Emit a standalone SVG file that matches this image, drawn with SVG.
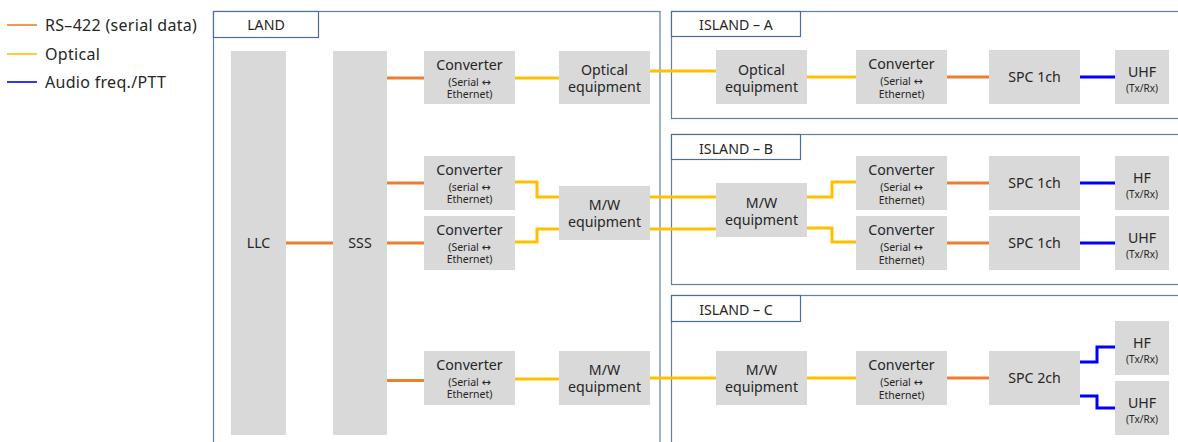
<svg xmlns="http://www.w3.org/2000/svg" width="1178" height="442" viewBox="0 0 1178 442">
<style>
text{font-family:"Noto Sans","Liberation Sans",sans-serif;fill:#262626;text-anchor:middle}
.m{font-size:14.2px}
.s{font-size:10.5px}
.t{font-size:10px}
.ar{font-family:"DejaVu Sans",sans-serif;font-size:11px}
.lg{font-size:16px;text-anchor:start;letter-spacing:0.3px}
.box{fill:#d9d9d9}
.frame{fill:none;stroke:#5f7ea8;stroke-width:1.2}
.lab{fill:#fff;stroke:#4a6d9a;stroke-width:1.2}
.o{fill:none;stroke:#ed7d31;stroke-width:3}
.y{fill:none;stroke:#ffc000;stroke-width:3}
.b{fill:none;stroke:#0000ff;stroke-width:3}
</style>
<g id="legend">
<line x1="7" y1="25" x2="37" y2="25" stroke="#ed7d31" stroke-width="1.6"/>
<text class="lg" x="45" y="30.5">RS–422 (serial data)</text>
<line x1="7" y1="54" x2="37" y2="54" stroke="#ffc000" stroke-width="1.6"/>
<text class="lg" x="45" y="59.5">Optical</text>
<line x1="7" y1="82" x2="37" y2="82" stroke="#0000ff" stroke-width="1.6"/>
<text class="lg" x="45" y="87.5">Audio freq./PTT</text>
</g>
<g id="frames">
<rect class="frame" x="213.5" y="11.5" width="446.5" height="460"/>
<rect class="lab" x="213.5" y="11.5" width="105" height="26"/>
<text class="m" x="266" y="30">LAND</text>
<rect class="frame" x="671.5" y="11.5" width="540" height="107"/>
<rect class="lab" x="671.5" y="11.5" width="129" height="25"/>
<text class="m" x="736" y="29.5">ISLAND – A</text>
<rect class="frame" x="671.5" y="134.5" width="540" height="150"/>
<rect class="lab" x="671.5" y="134.5" width="129" height="25"/>
<text class="m" x="736" y="153.5">ISLAND – B</text>
<rect class="frame" x="671.5" y="295.5" width="540" height="200"/>
<rect class="lab" x="671.5" y="295.5" width="129" height="26"/>
<text class="m" x="736" y="315">ISLAND – C</text>
</g>
<g id="connectors">
<path class="o" d="M286 243H333"/>
<path class="o" d="M387 78H424"/>
<path class="o" d="M387 183H424"/>
<path class="o" d="M387 243H424"/>
<path class="o" d="M387 380.5H424"/>
<path class="y" d="M515 78H559"/>
<path class="y" d="M650 71H716"/>
<path class="y" d="M515 182H537V197H559"/>
<path class="y" d="M515 242H537V229H559"/>
<path class="y" d="M650 197H716"/>
<path class="y" d="M650 229H716"/>
<path class="y" d="M515 379H559"/>
<path class="y" d="M650 378H716"/>
<path class="y" d="M807 77H856"/>
<path class="o" d="M947 77H989"/>
<path class="b" d="M1080 77H1115"/>
<path class="y" d="M807 197H832V182H856"/>
<path class="y" d="M807 228H832V242H856"/>
<path class="o" d="M947 183H989"/>
<path class="b" d="M1080 183H1115"/>
<path class="o" d="M947 243H989"/>
<path class="b" d="M1080 243H1115"/>
<path class="y" d="M807 378H856"/>
<path class="o" d="M947 378H989"/>
<path class="b" d="M1080 362H1097V347H1115"/>
<path class="b" d="M1080 396H1097V408H1115"/>
</g>
<g id="llc"><rect class="box" x="231" y="51" width="55" height="384"/><text class="m" x="258.5" y="248">LLC</text></g>
<g id="sss"><rect class="box" x="333" y="51" width="54" height="384"/><text class="m" x="360" y="248">SSS</text></g>
<g id="convL1"><rect class="box" x="424" y="51" width="91" height="53"/><text class="m" x="469.5" y="70">Converter</text><text class="s" x="469.5" y="85.5">(Serial <tspan class="ar">↔</tspan></text><text class="s" x="469.5" y="98">Ethernet)</text></g>
<g id="optL"><rect class="box" x="559" y="51" width="91" height="53"/><text class="m" x="604.5" y="75">Optical</text><text class="m" x="604.5" y="92">equipment</text></g>
<g id="convL2"><rect class="box" x="424" y="156" width="91" height="54"/><text class="m" x="469.5" y="175">Converter</text><text class="s" x="469.5" y="190.5">(serial <tspan class="ar">↔</tspan></text><text class="s" x="469.5" y="203">Ethernet)</text></g>
<g id="convL3"><rect class="box" x="424" y="216" width="91" height="54"/><text class="m" x="469.5" y="235">Converter</text><text class="s" x="469.5" y="250.5">(Serial <tspan class="ar">↔</tspan></text><text class="s" x="469.5" y="263">Ethernet)</text></g>
<g id="mwL1"><rect class="box" x="559" y="186" width="91" height="54"/><text class="m" x="604.5" y="210">M/W</text><text class="m" x="604.5" y="227">equipment</text></g>
<g id="convL4"><rect class="box" x="424" y="351" width="91" height="54"/><text class="m" x="469.5" y="370">Converter</text><text class="s" x="469.5" y="385.5">(Serial <tspan class="ar">↔</tspan></text><text class="s" x="469.5" y="398">Ethernet)</text></g>
<g id="mwL2"><rect class="box" x="559" y="351" width="91" height="54"/><text class="m" x="604.5" y="375">M/W</text><text class="m" x="604.5" y="392">equipment</text></g>
<g id="optA"><rect class="box" x="716" y="50" width="91" height="54"/><text class="m" x="761.5" y="75">Optical</text><text class="m" x="761.5" y="92">equipment</text></g>
<g id="convA"><rect class="box" x="856" y="50" width="91" height="54"/><text class="m" x="901.5" y="69">Converter</text><text class="s" x="901.5" y="85">(Serial <tspan class="ar">↔</tspan></text><text class="s" x="901.5" y="98">Ethernet)</text></g>
<g id="spcA"><rect class="box" x="989" y="50" width="91" height="54"/><text class="m" x="1034.5" y="82">SPC 1ch</text></g>
<g id="uhfA"><rect class="box" x="1115" y="50" width="54" height="54"/><text class="m" x="1142" y="77">UHF</text><text class="t" x="1142" y="91.5">(Tx/Rx)</text></g>
<g id="mwB"><rect class="box" x="716" y="183" width="91" height="54"/><text class="m" x="761.5" y="207.5">M/W</text><text class="m" x="761.5" y="224.5">equipment</text></g>
<g id="convB1"><rect class="box" x="856" y="156" width="91" height="54"/><text class="m" x="901.5" y="175">Converter</text><text class="s" x="901.5" y="191">(Serial <tspan class="ar">↔</tspan></text><text class="s" x="901.5" y="204">Ethernet)</text></g>
<g id="convB2"><rect class="box" x="856" y="216" width="91" height="54"/><text class="m" x="901.5" y="235">Converter</text><text class="s" x="901.5" y="251">(Serial <tspan class="ar">↔</tspan></text><text class="s" x="901.5" y="264">Ethernet)</text></g>
<g id="spcB1"><rect class="box" x="989" y="156" width="91" height="54"/><text class="m" x="1034.5" y="188">SPC 1ch</text></g>
<g id="spcB2"><rect class="box" x="989" y="216" width="91" height="54"/><text class="m" x="1034.5" y="248">SPC 1ch</text></g>
<g id="hfB"><rect class="box" x="1115" y="156" width="54" height="54"/><text class="m" x="1142" y="183">HF</text><text class="t" x="1142" y="197.5">(Tx/Rx)</text></g>
<g id="uhfB"><rect class="box" x="1115" y="216" width="54" height="54"/><text class="m" x="1142" y="243">UHF</text><text class="t" x="1142" y="257.5">(Tx/Rx)</text></g>
<g id="mwC"><rect class="box" x="716" y="351" width="91" height="54"/><text class="m" x="761.5" y="375">M/W</text><text class="m" x="761.5" y="392">equipment</text></g>
<g id="convC"><rect class="box" x="856" y="351" width="91" height="54"/><text class="m" x="901.5" y="370">Converter</text><text class="s" x="901.5" y="386">(Serial <tspan class="ar">↔</tspan></text><text class="s" x="901.5" y="399">Ethernet)</text></g>
<g id="spcC"><rect class="box" x="989" y="351" width="91" height="54"/><text class="m" x="1034.5" y="383">SPC 2ch</text></g>
<g id="hfC"><rect class="box" x="1115" y="321" width="54" height="54"/><text class="m" x="1142" y="348">HF</text><text class="t" x="1142" y="362.5">(Tx/Rx)</text></g>
<g id="uhfC"><rect class="box" x="1115" y="381" width="54" height="54"/><text class="m" x="1142" y="408">UHF</text><text class="t" x="1142" y="422.5">(Tx/Rx)</text></g>
</svg>
